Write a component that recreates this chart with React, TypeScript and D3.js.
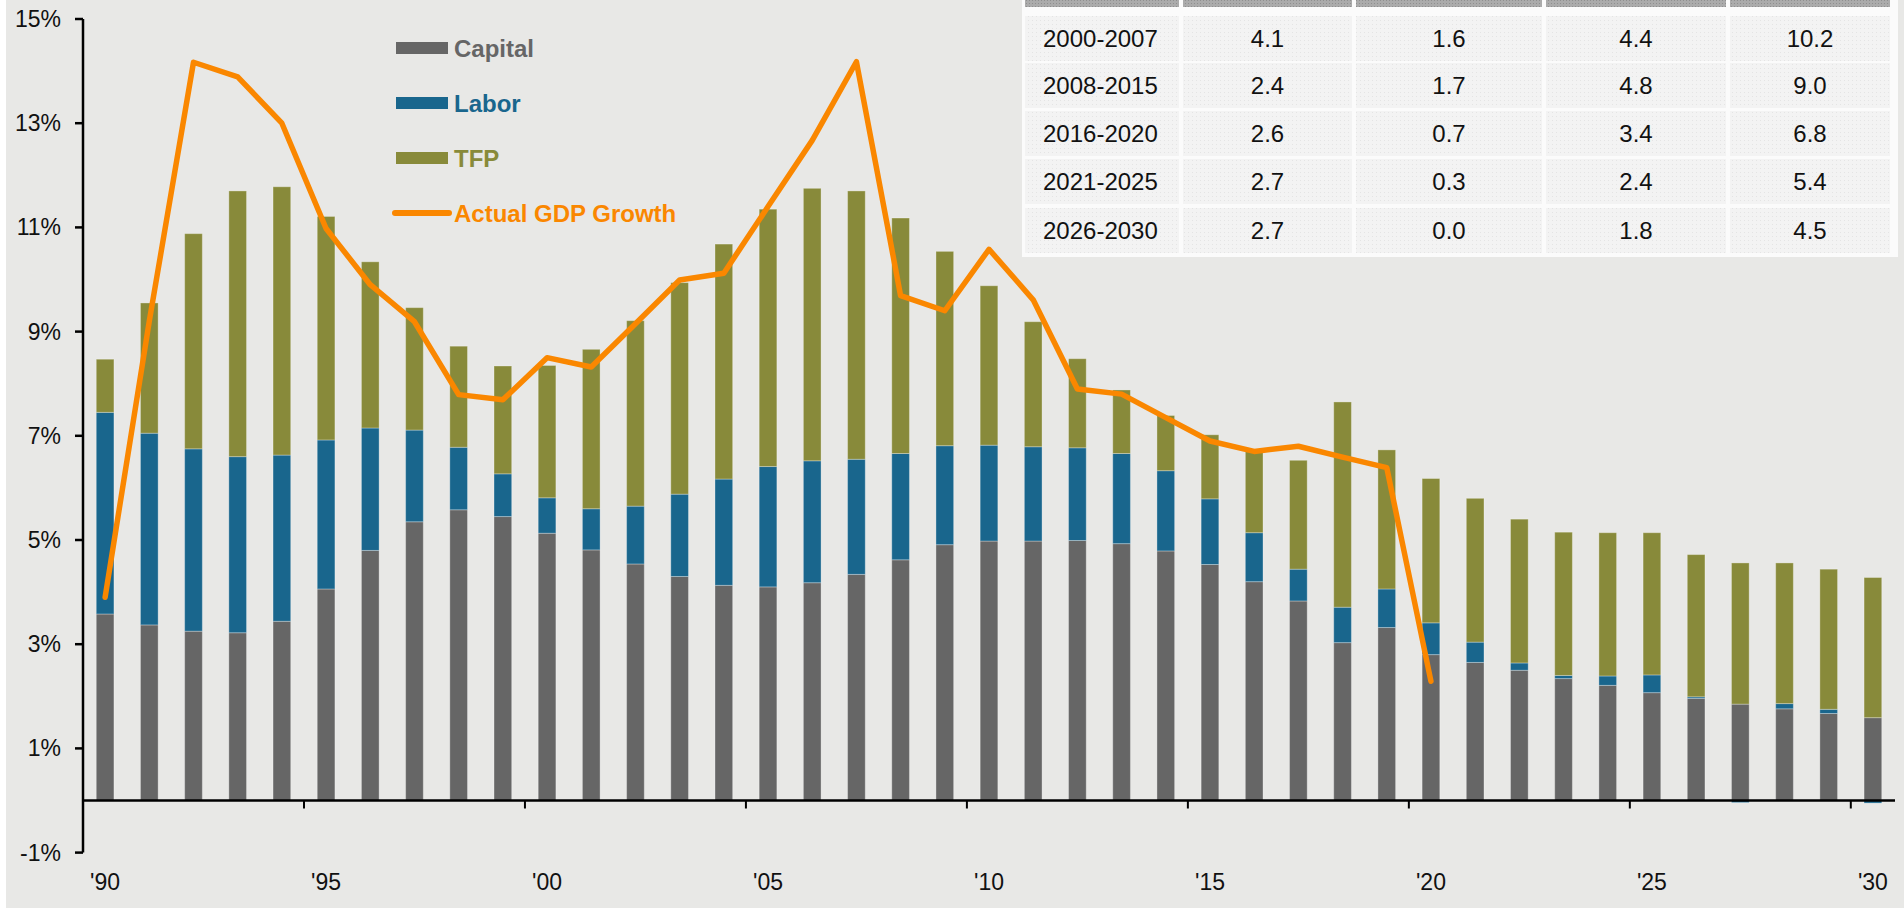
import React from 'react';
import * as d3 from 'd3';

// contributions to growth, percentage points
const years = d3.range(1990, 2031);
const capital = [3.58, 3.37, 3.25, 3.22, 3.44, 4.06, 4.8, 5.35, 5.58, 5.45, 5.13, 4.81, 4.54, 4.3, 4.13, 4.1, 4.18, 4.34, 4.62, 4.91, 4.98, 4.98, 4.99, 4.93, 4.79, 4.53, 4.2, 3.83, 3.03, 3.32, 2.8, 2.65, 2.5, 2.34, 2.21, 2.07, 1.96, 1.85, 1.76, 1.67, 1.59];
const labor = [3.87, 3.68, 3.5, 3.38, 3.19, 2.86, 2.35, 1.76, 1.2, 0.82, 0.68, 0.79, 1.11, 1.58, 2.04, 2.31, 2.34, 2.21, 2.04, 1.9, 1.84, 1.81, 1.78, 1.73, 1.54, 1.26, 0.94, 0.61, 0.68, 0.74, 0.61, 0.39, 0.14, 0.06, 0.18, 0.34, 0.03, -0.04, 0.1, 0.08, -0.05];
const tfp = [1.02, 2.5, 4.13, 5.1, 5.15, 4.29, 3.19, 2.35, 1.94, 2.07, 2.54, 3.06, 3.56, 4.06, 4.51, 4.94, 5.23, 5.15, 4.52, 3.73, 3.06, 2.4, 1.71, 1.22, 1.06, 1.23, 1.6, 2.09, 3.94, 2.67, 2.77, 2.76, 2.76, 2.75, 2.75, 2.73, 2.73, 2.71, 2.7, 2.69, 2.69];
const gdpYears = d3.range(1990, 2021);
const gdp = [3.9, 9.2, 14.17, 13.89, 13.0, 10.98, 9.9, 9.19, 7.79, 7.69, 8.5, 8.32, 9.15, 9.99, 10.12, 11.4, 12.67, 14.18, 9.69, 9.4, 10.58, 9.61, 7.9, 7.8, 7.35, 6.9, 6.7, 6.8, 6.59, 6.39, 2.29];

const yTicks = [-1, 1, 3, 5, 7, 9, 11, 13, 15];
const xLabelYears = [1990, 1995, 2000, 2005, 2010, 2015, 2020, 2025, 2030];

const periods = ['2000-2007', '2008-2015', '2016-2020', '2021-2025', '2026-2030'];
const colA = ['4.1', '2.4', '2.6', '2.7', '2.7'];
const colB = ['1.6', '1.7', '0.7', '0.3', '0.0'];
const colC = ['4.4', '4.8', '3.4', '2.4', '1.8'];
const colD = ['10.2', '9.0', '6.8', '5.4', '4.5'];

const keys = ['capital', 'labor', 'tfp'];
const colors = { capital: '#666666', labor: '#19668d', tfp: '#888a3a' };
const orange = '#fa8700';
const font = '"Liberation Sans", Arial, sans-serif';

const W = 1904;
const H = 908;

export default function App() {
    const x = d3
        .scaleBand()
        .domain(years.map(String))
        .range([83, 1895])
        .paddingInner(0.6)
        .paddingOuter(0.3);
    const y = d3.scaleLinear().domain([-1, 15]).range([852.6, 19]);

    const rows = years.map((yr, i) => ({ year: String(yr), capital: capital[i], labor: labor[i], tfp: tfp[i] }));
    const series = d3.stack().keys(keys).offset(d3.stackOffsetDiverging)(rows);

    const line = d3
        .line()
        .x((d, i) => x(String(gdpYears[i])) + x.bandwidth() / 2)
        .y(d => y(d));

    const half = x.step() * 0.3;

    // table geometry
    const colX = [1025, 1183, 1356, 1546, 1730, 1894];
    const rowY = [16, 63, 111, 159, 208];
    const rowH = 45;
    const cols = [colA, colB, colC, colD];

    const legend = [
        { label: 'Capital', color: colors.capital },
        { label: 'Labor', color: colors.labor },
        { label: 'TFP', color: colors.tfp },
    ];

    return (
        <svg width={W} height={H} style={{ position: 'absolute', left: 0, top: 0, display: 'block' }}>
            <defs>
                <pattern id="cell" width="4" height="4" patternUnits="userSpaceOnUse">
                    <rect width="4" height="4" fill="#f3f3f3" />
                    <rect width="1" height="1" fill="#e4e4e4" />
                </pattern>
                <pattern id="head" width="3" height="3" patternUnits="userSpaceOnUse">
                    <rect width="3" height="3" fill="#ababab" />
                    <rect width="1" height="1" fill="#8f8f8f" />
                </pattern>
            </defs>
            <rect x={0} y={0} width={W} height={H} fill="#ffffff" />
            <rect x={6} y={0} width={W - 6} height={H} fill="#e8e8e6" />

            {/* bars */}
            {series.map(s => (
                <g key={s.key} fill={colors[s.key]}>
                    {s.map((d, i) => {
                        const h = Math.abs(y(d[0]) - y(d[1]));
                        if (h < 0.01) return null;
                        return (
                            <rect
                                key={i}
                                x={x(d.data.year)}
                                y={Math.min(y(d[0]), y(d[1]))}
                                width={x.bandwidth()}
                                height={h}
                                stroke="rgba(255,255,255,0.3)"
                                strokeWidth={1}
                            />
                        );
                    })}
                </g>
            ))}

            {/* axes */}
            <line x1={83} x2={83} y1={y(15)} y2={y(-1)} stroke="#000" strokeWidth={2.5} />
            {yTicks.map(t => (
                <g key={t}>
                    <line x1={75} x2={83} y1={y(t)} y2={y(t)} stroke="#000" strokeWidth={2.5} />
                    <text x={61} y={y(t) + 8} textAnchor="end" fontFamily={font} fontSize={23} fill="#111">
                        {t}%
                    </text>
                </g>
            ))}
            <line x1={83} x2={1895} y1={y(0)} y2={y(0)} stroke="#000" strokeWidth={2.5} />
            {xLabelYears.map(yr => (
                <g key={yr}>
                    {yr > 1990 && (
                        <line
                            x1={x(String(yr)) - half}
                            x2={x(String(yr)) - half}
                            y1={y(0)}
                            y2={y(0) + 8}
                            stroke="#000"
                            strokeWidth={2}
                        />
                    )}
                    <text
                        x={x(String(yr)) + x.bandwidth() / 2}
                        y={890}
                        textAnchor="middle"
                        fontFamily={font}
                        fontSize={23}
                        fill="#111"
                    >
                        '{String(yr).slice(2)}
                    </text>
                </g>
            ))}

            {/* GDP line */}
            <path d={line(gdp)} fill="none" stroke={orange} strokeWidth={5.5} strokeLinejoin="round" strokeLinecap="round" />

            {/* legend */}
            {legend.map((l, i) => (
                <g key={l.label}>
                    <rect x={396} y={42 + i * 55} width={52} height={12} fill={l.color} />
                    <text x={454} y={56.5 + i * 55} fontFamily={font} fontWeight="bold" fontSize={24} fill={l.color}>
                        {l.label}
                    </text>
                </g>
            ))}
            <line x1={395} x2={449} y1={213} y2={213} stroke={orange} strokeWidth={6} strokeLinecap="round" />
            <text x={454} y={221.5} fontFamily={font} fontWeight="bold" fontSize={24} fill={orange}>
                Actual GDP Growth
            </text>

            {/* table */}
            <rect x={1022} y={0} width={876} height={257} fill="#fbfbfb" />
            {colX.slice(0, 5).map((cx, c) => (
                <rect key={'h' + c} x={cx} y={0} width={colX[c + 1] - cx - 4} height={7} fill="url(#head)" />
            ))}
            {periods.map((p, r) => (
                <g key={p}>
                    {colX.slice(0, 5).map((cx, c) => (
                        <rect key={c} x={cx} y={rowY[r]} width={colX[c + 1] - cx - 4} height={rowH} fill="url(#cell)" />
                    ))}
                    <text x={1043} y={rowY[r] + 31} fontFamily={font} fontSize={24} fill="#111">
                        {p}
                    </text>
                    {cols.map((col, c) => (
                        <text
                            key={c}
                            x={(colX[c + 1] + colX[c + 2] - 4) / 2}
                            y={rowY[r] + 31}
                            textAnchor="middle"
                            fontFamily={font}
                            fontSize={24}
                            fill="#111"
                        >
                            {col[r]}
                        </text>
                    ))}
                </g>
            ))}
        </svg>
    );
}
